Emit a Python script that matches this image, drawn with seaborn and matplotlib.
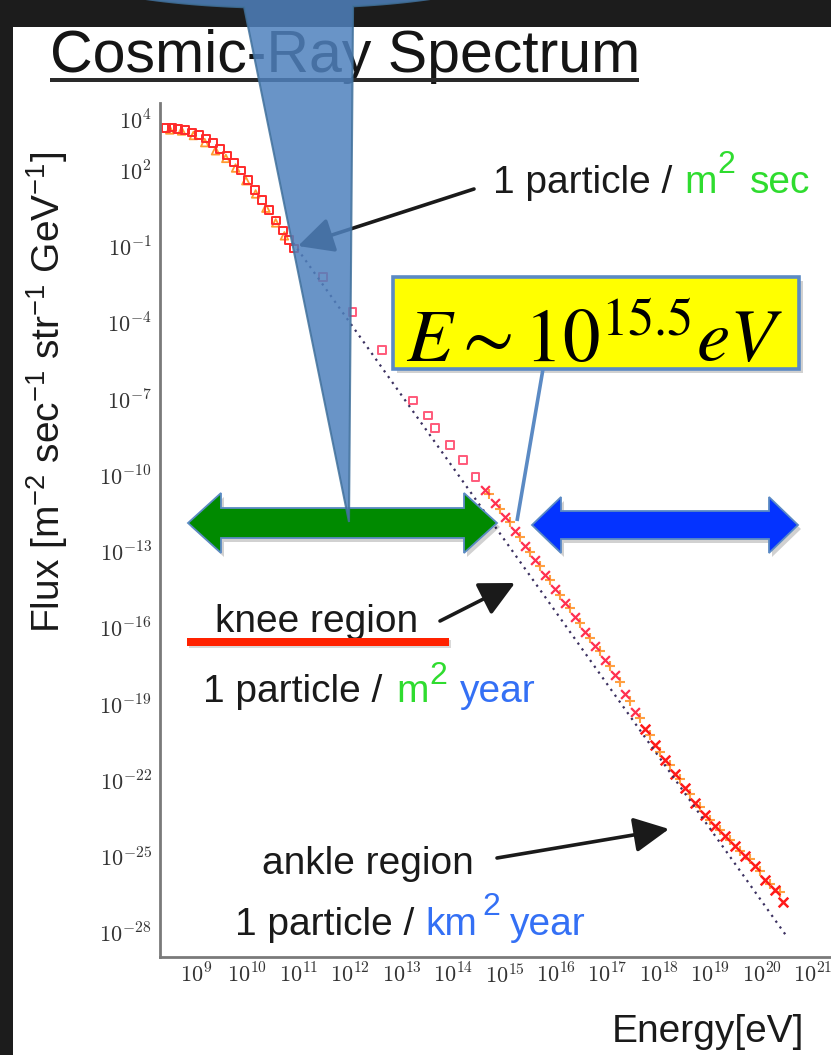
import numpy as np
import pandas as pd
import matplotlib
matplotlib.use("Agg")
import matplotlib.pyplot as plt
import seaborn as sns
from matplotlib.patches import Polygon, Rectangle
from matplotlib.ticker import NullLocator

# ---------------- data (log10 values) ----------------
direct_a_logE = [8.42, 8.53, 8.65, 8.79, 8.92, 9.06, 9.20, 9.33, 9.47, 9.60,
                 9.74, 9.88, 10.01, 10.15, 10.28, 10.42, 10.56, 10.69, 10.81, 10.91]
direct_a_logF = [3.70, 3.72, 3.66, 3.62, 3.52, 3.42, 3.28, 3.10, 2.88, 2.62,
                 2.34, 2.02, 1.66, 1.26, 0.86, 0.46, 0.05, -0.34, -0.72, -1.05]

direct_b_logE = [8.49, 8.72, 8.95, 9.17, 9.38, 9.58, 9.77, 9.97, 10.16, 10.36, 10.55, 10.72]
direct_b_logF = [3.62, 3.58, 3.40, 3.12, 2.80, 2.50, 2.12, 1.62, 1.10, 0.54, -0.04, -0.55]

sparse_logE = [11.47, 12.04, 12.62, 13.22, 13.51, 13.65, 13.94, 14.19, 14.43]
sparse_logF = [-2.17, -3.55, -5.05, -7.02, -7.61, -8.12, -8.79, -9.38, -10.05]

knee_logE = [14.62, 14.82, 15.01, 15.21, 15.40, 15.60, 15.79, 15.98, 16.18, 16.37,
             16.57, 16.76, 16.96, 17.15, 17.35, 17.54]
knee_logF = [-10.56, -11.07, -11.62, -12.17, -12.76, -13.31, -13.91, -14.46, -15.01, -15.56,
             -16.15, -16.70, -17.25, -17.84, -18.59, -19.30]

knee_b_logE = [14.70, 14.91, 15.10, 15.30, 15.50, 15.69, 15.88, 16.08, 16.27, 16.47,
               16.66, 16.86, 17.05, 17.25, 17.44, 17.64, 17.83, 18.03, 18.22, 18.42,
               18.61, 18.80, 19.00, 19.19, 19.39, 19.58, 19.78, 19.97, 20.17, 20.36]
knee_b_logF = [-10.70, -11.30, -11.82, -12.40, -12.98, -13.55, -14.10, -14.70, -15.22, -15.80,
               -16.38, -16.90, -17.50, -18.12, -18.85, -19.55, -20.20, -20.85, -21.40, -21.95,
               -22.52, -23.05, -23.55, -23.95, -24.35, -24.75, -25.10, -25.55, -26.05, -26.40]

uhe_logE = [17.74, 17.93, 18.12, 18.32, 18.51, 18.71, 18.90, 19.10, 19.29, 19.49,
            19.68, 19.88, 20.07, 20.26, 20.42]
uhe_logF = [-19.97, -20.60, -21.19, -21.74, -22.29, -22.88, -23.35, -23.79, -24.18, -24.57,
            -24.97, -25.36, -25.91, -26.31, -26.78]

ref_line_logE = [10.89, 20.50]
ref_line_logF = [-0.83, -28.16]

x_tick_exp = list(range(9, 22))
y_tick_exp = [4, 2, -1, -4, -7, -10, -13, -16, -19, -22, -25, -28]

series_style = {
    "direct_a": dict(marker="s", color="#ff2a2a", s=30, lw=1.4),
    "direct_b": dict(marker="^", color="#ff9a30", s=30, lw=1.3),
    "sparse":   dict(marker="s", color="#ff5a7a", s=28, lw=1.4),
    "knee":     dict(marker="x", color="#ff3050", s=40, lw=1.6),
    "knee_b":   dict(marker="+", color="#ffa040", s=44, lw=1.5),
    "uhe":      dict(marker="x", color="#ff1a1a", s=48, lw=1.8),
}

frames = []
for name, le, lf in [("direct_a", direct_a_logE, direct_a_logF),
                     ("direct_b", direct_b_logE, direct_b_logF),
                     ("sparse", sparse_logE, sparse_logF),
                     ("knee_b", knee_b_logE, knee_b_logF),
                     ("knee", knee_logE, knee_logF),
                     ("uhe", uhe_logE, uhe_logF)]:
    frames.append(pd.DataFrame({"E": 10.0 ** np.array(le), "F": 10.0 ** np.array(lf), "series": name}))
df = pd.concat(frames, ignore_index=True)

# ---------------- figure ----------------
sns.set_theme(style="white")
plt.rcParams["font.family"] = ["Liberation Sans", "DejaVu Sans"]
plt.rcParams["mathtext.fontset"] = "custom"
plt.rcParams["mathtext.rm"] = "Liberation Sans"
plt.rcParams["mathtext.it"] = "Liberation Sans:italic"
plt.rcParams["mathtext.bf"] = "Liberation Sans:bold"

W, H = 831, 1055
fig = plt.figure(figsize=(W / 100, H / 100), dpi=100)
fig.patch.set_facecolor("white")

ax = fig.add_axes([160 / W, 1 - 957 / H, (W - 160) / W, (957 - 103) / H])
ax.set_xscale("log")
ax.set_yscale("log")
ax.set_facecolor("none")

sns.lineplot(x=10.0 ** np.array(ref_line_logE), y=10.0 ** np.array(ref_line_logF), ax=ax,
             color="#3b3060", lw=1.6, linestyle=(0, (1, 2.2)), sort=False, estimator=None, legend=False)

for name in ["direct_b", "direct_a", "sparse", "knee_b", "knee", "uhe"]:
    g = df[df["series"] == name]
    st = series_style[name]
    sns.scatterplot(data=g, x="E", y="F", ax=ax, marker=st["marker"], s=st["s"],
                    color=st["color"], linewidth=st["lw"], legend=False)
    coll = ax.collections[-1]
    if st["marker"] in ("s", "^", "o"):
        coll.set_facecolor("none")
    coll.set_edgecolor(st["color"])

ax.set_xlim(10 ** 8.30, 10 ** 21.35)
ax.set_ylim(10 ** -28.94, 10 ** 4.68)
ax.xaxis.set_minor_locator(NullLocator())
ax.yaxis.set_minor_locator(NullLocator())
ax.set_xticks([10.0 ** e for e in x_tick_exp])
ax.set_xticklabels([r"$10^{%d}$" % e for e in x_tick_exp])
ax.set_yticks([10.0 ** e for e in y_tick_exp])
ax.set_yticklabels([r"$10^{%d}$" % e for e in y_tick_exp])
for lab in ax.get_xticklabels() + ax.get_yticklabels():
    lab.set_math_fontfamily("cm")
    lab.set_fontsize(16)
    lab.set_color("#333333")
ax.tick_params(axis="both", direction="in", length=9, width=1.6, color="#7a6a9a")
ax.tick_params(axis="x", pad=5)
ax.tick_params(axis="y", pad=6)
for sp in ["top", "right"]:
    ax.spines[sp].set_visible(False)
for sp in ["left", "bottom"]:
    ax.spines[sp].set_color("#7a7a7a")
    ax.spines[sp].set_linewidth(2)
ax.set_xlabel("")
ax.set_ylabel("")

# ---------------- overlay in pixel coordinates ----------------
ov = fig.add_axes([0, 0, 1, 1], zorder=5)
ov.set_xlim(0, W)
ov.set_ylim(H, 0)
ov.axis("off")
ov.patch.set_alpha(0)

# dark slide frame
ov.add_patch(Rectangle((0, 0), W, 27, fc="#1c1c1c", ec="none", zorder=1))
ov.add_patch(Rectangle((0, 0), 13, H, fc="#1c1c1c", ec="none", zorder=1))

txt = "#1a1a1a"
green = "#2fdc2f"
blue = "#3470f5"

# title
ov.text(50, 72, "Cosmic-Ray Spectrum", fontsize=42.5, color="#151515", ha="left", va="baseline", zorder=2)
ov.add_patch(Rectangle((50, 78), 589, 4, fc="#2a2a2a", ec="none", zorder=2))

FS, SFS = 28, 23


def put(x, y, s, col, size=FS):
    ov.text(x, y, s, fontsize=size, color=col, ha="left", va="baseline", zorder=3)


# 1 particle / m^2 sec
put(493, 193, "1 particle /", txt)
put(684, 193, "m", green)
put(717, 173, "2", green, SFS)
put(750, 193, "sec", green)
# knee region
put(215, 632, "knee region", txt)
ov.add_patch(Rectangle((189, 640), 262, 8, fc="#000000", alpha=0.15, ec="none", zorder=3))
ov.add_patch(Rectangle((187, 638), 262, 8, fc="#ff2200", ec="none", zorder=3))
# 1 particle / m^2 year
put(203, 702, "1 particle /", txt)
put(396, 702, "m", green)
put(429, 684, "2", green, SFS)
put(460, 702, "year", blue)
# ankle region
put(262, 874, "ankle region", txt)
# 1 particle / km^2 year
put(235, 935, "1 particle /", txt)
put(425, 935, "km", blue)
put(482, 915, "2", blue, SFS)
put(510, 935, "year", blue)

# axis labels
ov.text(47, 392, r"Flux [m$^{-2}$ sec$^{-1}$ str$^{-1}$ GeV$^{-1}$]", rotation=90,
        fontsize=28, color=txt, ha="center", va="center", zorder=3)
ov.text(612, 1042, "Energy[eV]", fontsize=28, color=txt, ha="left", va="baseline", zorder=3)

# black arrows
aprops = dict(arrowstyle="-|>,head_length=0.9,head_width=0.45", lw=2.6, color="#1a1a1a",
              mutation_scale=24, shrinkA=0, shrinkB=0)
ov.annotate("", xy=(298, 246), xytext=(474, 189), arrowprops=aprops, zorder=3)
ov.annotate("", xy=(515, 583), xytext=(440, 621), arrowprops=aprops, zorder=3)
ov.annotate("", xy=(669, 829), xytext=(497, 858), arrowprops=aprops, zorder=3)


def dbl_arrow(x0, x1, c, hl, hh, bh):
    return [(x0, c), (x0 + hl, c - hh), (x0 + hl, c - bh), (x1 - hl, c - bh), (x1 - hl, c - hh),
            (x1, c), (x1 - hl, c + hh), (x1 - hl, c + bh), (x0 + hl, c + bh), (x0 + hl, c + hh)]


edge = "#5b8ac4"
g_pts = dbl_arrow(188, 497, 523, 33, 30, 15)
b_pts = dbl_arrow(532, 798, 525, 29, 28, 14)
for pts, col in [(g_pts, "#008a00"), (b_pts, "#0433ff")]:
    ov.add_patch(Polygon([(x + 3, y + 4) for x, y in pts], closed=True, fc="black", alpha=0.18,
                         ec="none", zorder=4))
    ov.add_patch(Polygon(pts, closed=True, fc=col, ec=edge, lw=1.3, zorder=4))

# yellow label box
ov.add_patch(Rectangle((397, 281), 406, 92, fc="black", alpha=0.18, ec="none", zorder=4))
ov.add_patch(Rectangle((393, 277), 406, 92, fc="#ffff00", ec=edge, lw=2.6, zorder=4))
ov.text(595, 362, r"$E\sim10^{15.5}eV$", math_fontfamily="stix", fontsize=54, color="black",
        ha="center", va="baseline", zorder=5)
ov.plot([543, 517], [369, 521], color=edge, lw=2.6, zorder=4, solid_capstyle="butt")

# blue callout (ellipse + tail)
cx, cy, a, b = 288, -30, 220, 38
t = np.radians(np.linspace(101.5, 432.8, 160))
verts = [(349, 522)] + list(zip(cx + a * np.cos(t), cy + b * np.sin(t))) + [(349, 522)]
ov.add_patch(Polygon(verts, closed=True, fc="#4f81bd", alpha=0.85, ec="#41719c", lw=1.5, zorder=6))

fig.savefig("out.png", dpi=100, facecolor=fig.get_facecolor())
